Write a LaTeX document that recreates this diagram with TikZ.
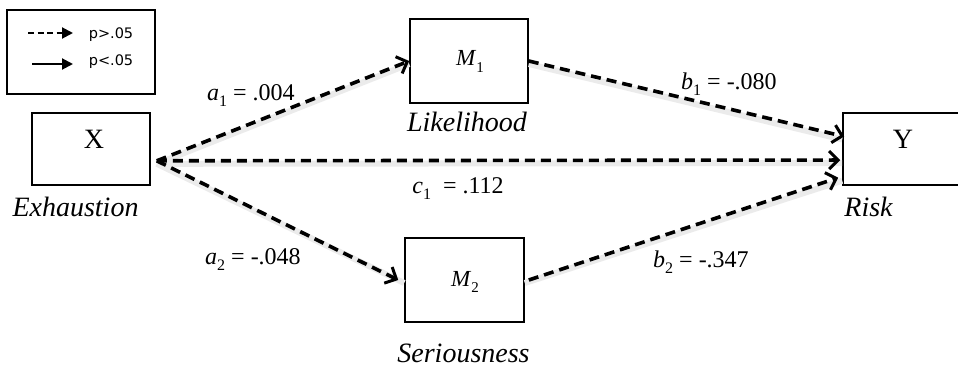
\documentclass[tikz,border=0pt]{standalone}
\usepackage{fontspec}
\setmainfont{Liberation Serif}[ItalicFont={Liberation Serif Italic}]
\newfontfamily\legfont{DejaVu Sans}
\usetikzlibrary{arrows.meta,calc}
\newcommand\lblsub[2]{\textit{#1}\raisebox{-0.28em}{\fontsize{16}{16}\selectfont #2}}
\newcommand\medsub[2]{\textit{#1}\raisebox{-0.28em}{\fontsize{15}{15}\selectfont #2}}
\tikzset{
  mybox/.style={draw, line width=1.6pt, inner sep=0pt},
  effectln/.style={line width=3.6pt, dash pattern=on 10pt off 6pt,
    -{Straight Barb[length=9pt,width=18pt,line width=3pt]}},
  shadowln/.style={line width=6pt, black!8, transform canvas={yshift=-3pt}},
  lbltxt/.style={anchor=base, inner sep=0pt, font=\fontsize{24}{26}\selectfont},
  captxt/.style={anchor=base, inner sep=0pt, font=\itshape\fontsize{28}{30}\selectfont},
  vartxt/.style={anchor=base, inner sep=0pt, font=\fontsize{28}{30}\selectfont},
  medtxt/.style={anchor=base, inner sep=0pt, font=\fontsize{23}{25}\selectfont},
  legtxt/.style={anchor=center, inner sep=0pt, font=\legfont\fontsize{14.5}{16}\selectfont}
}
\begin{document}
\begin{tikzpicture}[x=1pt,y=-1pt]
\useasboundingbox (0,0) rectangle (958,369);

% legend
\node[mybox, minimum width=148pt, minimum height=84pt] (leg) at (81,52) {};
\coordinate (l1s) at (28,33);
\coordinate (l1e) at (73,33);
\coordinate (l2s) at (32,64);
\coordinate (l2e) at (73,64);
\draw[line width=2pt, dash pattern=on 6pt off 3.5pt, -{Triangle[length=11pt,width=11pt]}] (l1s) -- (l1e);
\draw[line width=2pt, -{Triangle[length=11pt,width=11pt]}] (l2s) -- (l2e);
\node[legtxt] (lt1) at (111,35) {p>.05};
\node[legtxt] (lt2) at (111,62) {p<.05};

% boxes
\node[mybox, minimum width=118pt, minimum height=72pt] (X) at (91,149) {};
\node[mybox, minimum width=118pt, minimum height=84pt] (M1) at (469,61) {};
\node[mybox, minimum width=119pt, minimum height=84pt] (M2) at (464.5,280) {};
\node[mybox, minimum width=117pt, minimum height=72pt] (Y) at (901.5,149) {};

\node[vartxt] (xt) at (94,148) {X};
\node[vartxt] (yt) at (903,148) {Y};
\node[medtxt] (m1t) at (470,66) {\medsub{M}{1}};
\node[medtxt] (m2t) at (465,286) {\medsub{M}{2}};

\node[captxt] (exh) at (75.5,216) {Exhaustion};
\node[captxt] (lik) at (467,131) {Likelihood};
\node[captxt] (ser) at (463.5,362) {Seriousness};
\node[captxt] (risk) at (868.5,216) {Risk};

% connector points
\coordinate (xs) at ($(X.south east)+(6,-25)$);
\coordinate (yb1) at ($(Y.north west)!0.33!(Y.south west)$);
\coordinate (yc) at ($(Y.north west)!0.65!(Y.south west)$);
\coordinate (yb2) at ($(Y.north west)!0.89!(Y.south west)$);

% shadows
\draw[shadowln] (xs) -- (M1.west);
\draw[shadowln] (xs) -- (yc);
\draw[shadowln] (xs) -- (M2.west);
\draw[shadowln] (M1.east) -- (yb1);
\draw[shadowln] (M2.east) -- (yb2);

% paths
\draw[effectln] (xs) -- (M1.west);
\draw[effectln] (xs) -- ($(yc)+(-2,0)$);
\draw[effectln] (xs) -- ($(M2.west)+(-6,0)$);
\draw[effectln] (M1.east) -- ($(yb1)+(2,0)$);
\draw[effectln] ($(M2.east)+(4,0)$) -- ($(yb2)+(-4,0)$);

% labels
\node[lbltxt] (la1) at (251,100) {\lblsub{a}{1} = .004};
\node[lbltxt] (lb1) at (729,89) {\lblsub{b}{1} = -.080};
\node[lbltxt] (lc1) at (458,193) {\lblsub{c}{1}\ \ = .112};
\node[lbltxt] (la2) at (253,264) {\lblsub{a}{2} = -.048};
\node[lbltxt] (lb2) at (701,267) {\lblsub{b}{2} = -.347};
\end{tikzpicture}
\end{document}
